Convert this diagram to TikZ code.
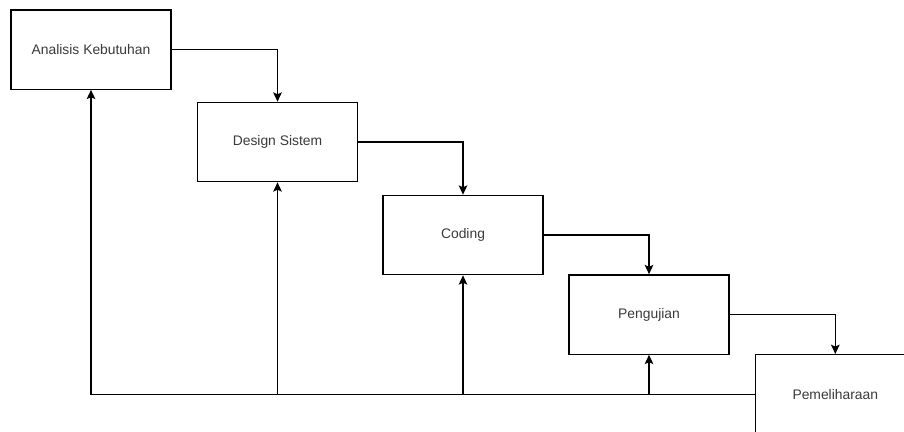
\documentclass[tikz,border=0pt]{standalone}
\usepackage{fontspec}
\setmainfont{Liberation Sans}
\usetikzlibrary{arrows.meta,positioning}
\definecolor{ink}{HTML}{000000}
\definecolor{labelgray}{HTML}{3A3A3A}
\definecolor{paper}{HTML}{FFFFFF}
\tikzset{
  flowarr/.style={-{Stealth[length=7pt,width=6.5pt,inset=1.5pt]},line width=1pt,color=ink},
  phasebox/.style={draw=ink,fill=paper,line width=1pt,minimum width=120pt,minimum height=59.5pt,
    inner sep=0pt,align=center,font=\fontsize{10.4}{12}\selectfont\color{labelgray}}
}
\begin{document}
\begin{tikzpicture}[x=0.75pt,y=-0.75pt]
  \useasboundingbox (0,0) rectangle (904,432);
  \fill[paper] (0,0) rectangle (904,432);
  \node[phasebox] (analisis) at (91,49.5) {Analisis Kebutuhan};
  \node[phasebox] (design) at (277.5,142) {Design Sistem};
  \node[phasebox] (coding) at (463,235) {Coding};
  \node[phasebox] (uji) at (649,314.5) {Pengujian};
  \node[phasebox] (pelihara) at (835.3,394.3) {Pemeliharaan};
  % alur maju
  \draw[flowarr] (analisis.east) -| (design.north);
  \draw[flowarr] (design.east) -| (coding.north);
  \draw[flowarr] (coding.east) -| (uji.north);
  \draw[flowarr] (uji.east) -| (pelihara.north);
  % umpan balik
  \draw[flowarr] (pelihara.west) -| (analisis.south);
  \foreach \n in {design,coding,uji}
    \draw[flowarr] (\n.south |- pelihara.west) -- (\n.south);
\end{tikzpicture}
\end{document}
